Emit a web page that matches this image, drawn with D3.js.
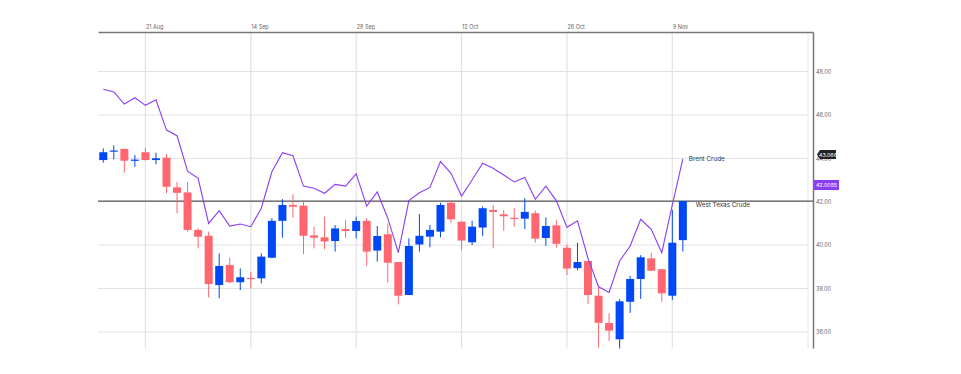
<!DOCTYPE html>
<html lang="en">
<head>
<meta charset="UTF-8">
<title>WTI vs Brent</title>
<script src="https://d3js.org/d3.v7.min.js"></script>
<style>
  html, body { margin: 0; padding: 0; background: #fff; }
  svg { display: block; font-family: Inter, "Noto Sans", sans-serif; }
</style>
</head>
<body>
<svg id="chart" width="961" height="374"></svg>
<script>
// West Texas Crude daily candles (trading-day index 0..55)
const wtiOpen  = [43.92,44.32,44.43,43.90,44.28,43.92,44.03,42.66,42.43,40.70,40.43,38.16,39.08,38.29,38.49,38.47,39.42,41.12,41.85,41.82,40.45,40.36,40.19,40.74,40.65,41.12,39.75,40.50,39.22,37.70,40.03,40.39,40.62,41.95,41.08,40.13,40.81,41.62,41.42,41.26,41.22,41.47,40.33,40.91,39.88,38.94,39.27,37.67,36.41,35.66,37.39,38.44,39.39,38.89,37.67,40.23];
const wtiHigh  = [44.46,44.60,44.45,44.15,44.49,44.26,44.20,42.91,42.91,40.77,40.62,39.62,39.42,38.93,38.77,39.62,41.24,42.12,42.34,42.08,40.85,41.31,40.93,41.16,41.31,41.24,40.88,41.00,39.22,40.31,41.43,40.93,41.95,42.08,41.10,41.12,41.78,41.85,41.62,41.70,42.16,41.59,41.28,41.16,40.04,40.11,39.27,38.08,36.86,37.50,38.58,39.54,39.65,38.89,41.62,42.03];
const wtiLow   = [43.80,43.95,43.34,43.61,43.90,43.72,42.39,41.47,40.62,39.85,37.59,37.55,38.25,37.93,38.01,38.24,39.39,40.34,41.26,39.59,39.85,39.81,39.70,40.34,40.31,39.04,39.24,38.27,37.27,37.70,39.70,39.90,40.36,41.03,39.77,40.00,40.42,39.85,40.66,40.85,40.74,40.11,39.97,39.88,38.62,38.84,37.29,35.27,35.58,35.24,36.88,37.52,38.82,37.39,37.47,39.70];
const wtiClose = [44.28,44.36,43.89,43.94,43.92,44.00,42.69,42.41,40.70,40.39,38.21,39.04,38.29,38.52,38.45,39.47,41.12,41.85,41.77,40.43,40.34,40.17,40.77,40.65,41.11,39.70,40.42,39.19,37.67,39.96,40.43,40.70,41.85,41.19,40.21,40.85,41.70,41.53,41.33,41.22,41.53,40.30,40.88,40.06,38.92,39.22,37.70,36.42,36.06,37.41,38.44,39.44,38.82,37.78,40.11,42.03];

// Brent Crude closes, same days
const brent = [47.18,47.06,46.50,46.79,46.44,46.70,45.30,45.04,43.41,43.08,41.00,41.59,40.88,40.97,40.85,41.70,43.38,44.26,44.12,42.72,42.62,42.39,42.80,42.72,43.28,41.80,42.45,41.24,39.65,42.05,42.41,42.66,43.85,43.31,42.26,43.00,43.77,43.54,43.23,42.91,43.12,42.11,42.72,42.04,40.82,41.12,39.39,38.08,37.82,39.27,39.96,41.19,40.73,39.65,41.85,43.97];

const tickLabels = ["21 Aug", "14 Sep", "28 Sep", "12 Oct", "26 Oct", "9 Nov"];
const tickIndex = [4, 14, 24, 34, 44, 54];
const priceTicks = [36, 38, 40, 42, 44, 46, 48];

// price tags on the right axis (value shown, level it sits at)
const tagText = ["43.066", "42.0055"];
const tagLevel = [44.17, 42.77];

const svg = d3.select("#chart");
const pLeft = 98, pRight = 813, pTop = 32, pBottom = 348;

const x = d3.scaleLinear().domain([-0.5, 67.35]).range([pLeft, pRight]);
const y = d3.scaleLinear().domain([35.26, 49.82]).range([pBottom, pTop]);

const red = "#ff6670", blue = "#0047f5", purple = "#8a3ef2";

// grid
svg.append("g").selectAll("line").data(priceTicks).join("line")
  .attr("x1", pLeft).attr("x2", pRight - 5)
  .attr("y1", d => y(d)).attr("y2", d => y(d))
  .attr("stroke", "#e2e2e2").attr("stroke-width", 1);

svg.append("g").selectAll("line").data(tickIndex).join("line")
  .attr("x1", d => x(d)).attr("x2", d => x(d))
  .attr("y1", pTop).attr("y2", pBottom)
  .attr("stroke", "#e2e2e2").attr("stroke-width", 1.2);

svg.append("line").attr("x1", pRight - 5).attr("x2", pRight - 5)
  .attr("y1", pTop).attr("y2", pBottom).attr("stroke", "#e6e6e6");

// top axis
const xAxis = d3.axisTop(x).tickValues(tickIndex)
  .tickFormat((d, i) => tickLabels[i]).tickSize(0).tickPadding(3);
const gx = svg.append("g").attr("transform", `translate(0,${pTop})`).call(xAxis);
gx.select(".domain").attr("stroke", "#777").attr("stroke-width", 1.5);
gx.selectAll("text").attr("text-anchor", "start").attr("dx", 0)
  .attr("font-size", 5.5).attr("fill", "#666")
  .attr("font-family", "Inter, 'Noto Sans', sans-serif");

// right axis
const yAxis = d3.axisRight(y).tickValues(priceTicks)
  .tickFormat(d3.format(".2f")).tickSize(0).tickPadding(3);
const gy = svg.append("g").attr("transform", `translate(${pRight},0)`).call(yAxis);
gy.select(".domain").attr("stroke", "#777").attr("stroke-width", 1.5);
gy.selectAll("text").attr("font-size", 5.5).attr("fill", "#666")
  .attr("font-family", "Inter, 'Noto Sans', sans-serif");

// last WTI close line
const lastClose = wtiClose[wtiClose.length - 1];
svg.append("line").attr("x1", pLeft).attr("x2", pRight)
  .attr("y1", y(lastClose)).attr("y2", y(lastClose))
  .attr("stroke", "#555").attr("stroke-width", 1.3);

// candles
const candles = d3.range(wtiOpen.length).map(i => ({
  i, o: wtiOpen[i], h: wtiHigh[i], l: wtiLow[i], c: wtiClose[i]
}));
const cg = svg.append("g").selectAll("g").data(candles).join("g")
  .attr("fill", d => d.c >= d.o ? blue : red)
  .attr("stroke", d => d.c >= d.o ? blue : red);
cg.append("line")
  .attr("x1", d => x(d.i)).attr("x2", d => x(d.i))
  .attr("y1", d => y(d.h)).attr("y2", d => y(d.l))
  .attr("stroke-width", 1);
cg.append("rect")
  .attr("x", d => x(d.i) - 4).attr("width", 8)
  .attr("y", d => y(Math.max(d.o, d.c)))
  .attr("height", d => Math.max(1.2, Math.abs(y(d.o) - y(d.c))))
  .attr("stroke", "none");

// brent line
const line = d3.line().x((d, i) => x(i)).y(d => y(d));
svg.append("path").datum(brent).attr("d", line)
  .attr("fill", "none").attr("stroke", purple).attr("stroke-width", 1.1);

// series labels
const n = brent.length - 1;
svg.append("text").attr("x", x(n) + 6).attr("y", y(brent[n]) + 2)
  .attr("font-size", 6.3).attr("fill", "#333").text("Brent Crude");
svg.append("text").attr("x", x(n) + 13).attr("y", y(lastClose) + 5.5)
  .attr("font-size", 6.3).attr("fill", "#333").text("West Texas Crude");

// right-hand price tags
const t0 = y(tagLevel[0]);
svg.append("path")
  .attr("d", `M${pRight + 4},${t0} L${pRight + 7},${t0 - 4.5} L${pRight + 23},${t0 - 4.5} L${pRight + 23},${t0 + 4.5} L${pRight + 7},${t0 + 4.5} Z`)
  .attr("fill", "#222");
svg.append("text").attr("x", pRight + 15).attr("y", t0 + 2).attr("text-anchor", "middle")
  .attr("font-size", 5.3).attr("fill", "#fff").text(tagText[0]);

const t1 = y(tagLevel[1]);
svg.append("rect").attr("x", pRight + 1).attr("y", t1 - 5).attr("width", 25).attr("height", 10)
  .attr("fill", purple);
svg.append("text").attr("x", pRight + 13.5).attr("y", t1 + 2).attr("text-anchor", "middle")
  .attr("font-size", 5.3).attr("fill", "#fff").text(tagText[1]);
</script>
</body>
</html>
